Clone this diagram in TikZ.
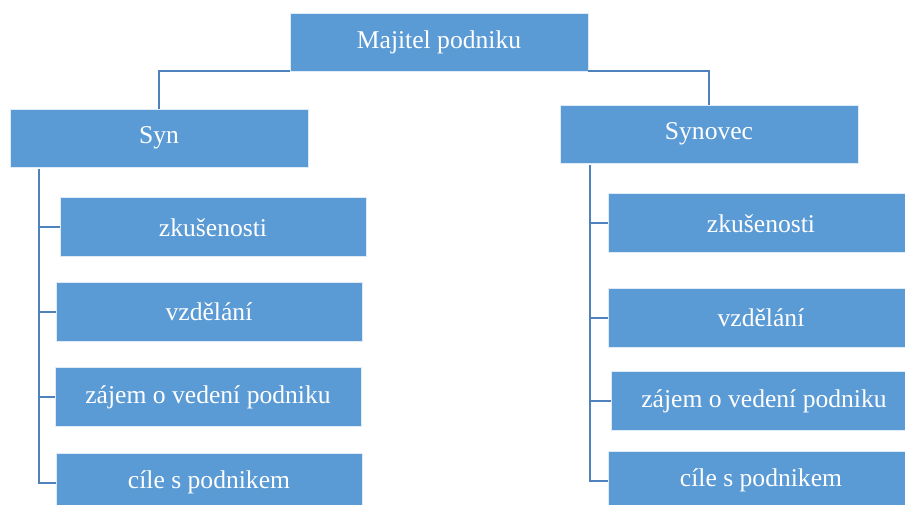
\documentclass[tikz,border=0pt]{standalone}
\usepackage{fontspec}
\setmainfont{Liberation Serif}
\usetikzlibrary{positioning}
\definecolor{boxblue}{HTML}{5B9BD5}
\definecolor{linkblue}{HTML}{4F82BD}
\tikzset{
	x=1pt, y=1pt,
	every text node part/.style= {
		align=center
	},
	person/.style= {
		rectangle,
		fill=boxblue,
		draw=white!80!boxblue,
		line width=0.8pt,
		text=white,
		minimum width=298pt,
		minimum height=58pt,
		font=\fontsize{25.6}{30}\selectfont
	},
	trait/.style= {
		person,
		minimum width=306pt,
		minimum height=59pt
	},
	link/.style={draw=linkblue, line width=2pt},
}

\begin{document}
\begin{tikzpicture}
		\useasboundingbox (0,0) rectangle (905,-505);
		\clip (0,0) rectangle (905,-505);

		\node (owner) [person] at (439,-42) {Majitel podniku};
		\node (syn) [person] at (159,-138) {Syn};
		\node (synovec) [person] at (709,-134) {Synovec};

		\node (synZk) [trait, below=30pt of syn, xshift=54pt] {zkušenosti};
		\node (synVz) [trait, below=25pt of synZk, xshift=-4pt] {vzdělání};
		\node (synZa) [trait, below=25pt of synVz, xshift=-1pt] {zájem o vedení podniku};
		\node (synCi) [trait, below=26pt of synZa, xshift=1pt] {cíle s podnikem};

		\node (novZk) [trait, below=30pt of synovec, xshift=52pt] {zkušenosti};
		\node (novVz) [trait, below=35pt of novZk] {vzdělání};
		\node (novZa) [trait, below=23pt of novVz, xshift=3pt] {zájem o vedení podniku};
		\node (novCi) [trait, below=20pt of novZa, xshift=-3pt] {cíle s podnikem};

		\draw[link] (owner.south west) -| (syn.north);
		\draw[link] (owner.south east) -| (synovec.north);

		\draw[link] ([xshift=29pt, yshift=-2pt]syn.south west) |- (synZk.west);
		\draw[link] ([xshift=29pt, yshift=-2pt]syn.south west) |- (synVz.west);
		\draw[link] ([xshift=29pt, yshift=-2pt]syn.south west) |- (synZa.west);
		\draw[link] ([xshift=29pt, yshift=-2pt]syn.south west) |- (synCi.west);

		\draw[link] ([xshift=30pt, yshift=-2pt]synovec.south west) |- (novZk.west);
		\draw[link] ([xshift=30pt, yshift=-2pt]synovec.south west) |- (novVz.west);
		\draw[link] ([xshift=30pt, yshift=-2pt]synovec.south west) |- (novZa.west);
		\draw[link] ([xshift=30pt, yshift=-2pt]synovec.south west) |- (novCi.west);
	\end{tikzpicture}
\end{document}
